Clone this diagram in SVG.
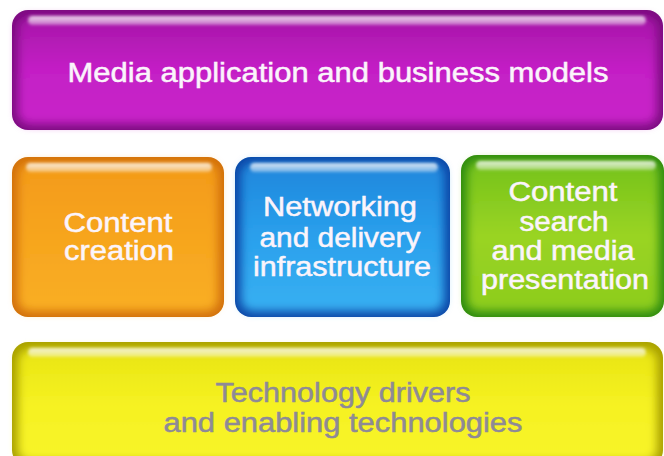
<svg xmlns="http://www.w3.org/2000/svg" width="664" height="456" viewBox="0 0 664 456">
<defs>
<filter id="soft" x="-10%" y="-10%" width="120%" height="120%"><feGaussianBlur stdDeviation="5"/></filter>
<filter id="hl" x="-5%" y="-50%" width="110%" height="200%"><feGaussianBlur stdDeviation="1.5"/></filter>
<linearGradient id="gP" x1="0" y1="0" x2="0" y2="1"><stop offset="0" stop-color="#a616a8"/><stop offset="0.5" stop-color="#c41fc6"/><stop offset="1" stop-color="#c824c8"/></linearGradient>
<linearGradient id="gO" x1="0" y1="0" x2="0" y2="1"><stop offset="0" stop-color="#f39a18"/><stop offset="0.5" stop-color="#f7a51e"/><stop offset="1" stop-color="#f9ae24"/></linearGradient>
<linearGradient id="gB" x1="0" y1="0" x2="0" y2="1"><stop offset="0" stop-color="#1f86dc"/><stop offset="0.5" stop-color="#2aa0ec"/><stop offset="1" stop-color="#38b0f2"/></linearGradient>
<linearGradient id="gG" x1="0" y1="0" x2="0" y2="1"><stop offset="0" stop-color="#74c21a"/><stop offset="0.5" stop-color="#9ad424"/><stop offset="1" stop-color="#8ccc1c"/></linearGradient>
<linearGradient id="gY" x1="0" y1="0" x2="0" y2="1"><stop offset="0" stop-color="#e8e412"/><stop offset="0.5" stop-color="#f6f222"/><stop offset="1" stop-color="#f8f42a"/></linearGradient>
<linearGradient id="hlg" x1="0" y1="0" x2="0" y2="1"><stop offset="0" stop-color="#fff" stop-opacity="0.85"/><stop offset="1" stop-color="#fff" stop-opacity="0.35"/></linearGradient>
</defs>
<style>
.lbl{font-family:"Liberation Sans",Arial,sans-serif;font-size:27px;text-anchor:middle;fill:#fbf4fb;stroke:#fbf4fb;stroke-width:0.5px}
.gray{fill:#8e8a96;stroke:#8e8a96}
.hl{fill:url(#hlg)}
</style>
<rect width="664" height="456" fill="#ffffff"/>

<g id="media">
<rect x="12" y="10" width="651" height="120" rx="16" fill="#7c0c80"/>
<rect x="18" y="17" width="639" height="107" rx="12" fill="url(#gP)" filter="url(#soft)"/>
<rect x="28" y="16" width="618" height="9" rx="4.5" class="hl" filter="url(#hl)"/>
<text class="lbl" x="338" y="82" textLength="541" lengthAdjust="spacingAndGlyphs">Media application and business models</text>
</g>

<g id="creation">
<rect x="12" y="157" width="212" height="160" rx="16" fill="#d2700c"/>
<rect x="18" y="163" width="200" height="148" rx="12" fill="url(#gO)" filter="url(#soft)"/>
<rect x="26" y="163" width="186" height="9" rx="4.5" class="hl" filter="url(#hl)"/>
<text class="lbl" x="118" y="232" textLength="109" lengthAdjust="spacingAndGlyphs">Content</text>
<text class="lbl" x="119" y="260" textLength="110" lengthAdjust="spacingAndGlyphs">creation</text>
</g>

<g id="networking">
<rect x="235" y="157" width="215" height="160" rx="16" fill="#0c48a8"/>
<rect x="241" y="163" width="203" height="148" rx="12" fill="url(#gB)" filter="url(#soft)"/>
<rect x="250" y="163" width="188" height="9" rx="4.5" class="hl" filter="url(#hl)"/>
<text class="lbl" x="340" y="216" textLength="154" lengthAdjust="spacingAndGlyphs">Networking</text>
<text class="lbl" x="340" y="247" textLength="161" lengthAdjust="spacingAndGlyphs">and delivery</text>
<text class="lbl" x="342" y="276" textLength="178" lengthAdjust="spacingAndGlyphs">infrastructure</text>
</g>

<g id="search">
<rect x="461" y="155" width="203" height="162" rx="16" fill="#2e8c10"/>
<rect x="467" y="161" width="192" height="150" rx="12" fill="url(#gG)" filter="url(#soft)"/>
<rect x="476" y="161" width="180" height="9" rx="4.5" class="hl" filter="url(#hl)"/>
<text class="lbl" x="563" y="201" textLength="109" lengthAdjust="spacingAndGlyphs">Content</text>
<text class="lbl" x="564" y="231" textLength="89" lengthAdjust="spacingAndGlyphs">search</text>
<text class="lbl" x="563" y="260" textLength="143" lengthAdjust="spacingAndGlyphs">and media</text>
<text class="lbl" x="565" y="289" textLength="168" lengthAdjust="spacingAndGlyphs">presentation</text>
</g>

<g id="technology">
<rect x="12" y="342" width="651" height="124" rx="16" fill="#a8a000"/>
<rect x="18" y="349" width="639" height="112" rx="12" fill="url(#gY)" filter="url(#soft)"/>
<rect x="28" y="348" width="618" height="9" rx="4.5" class="hl" filter="url(#hl)"/>
<text class="lbl gray" x="343" y="402" textLength="255" lengthAdjust="spacingAndGlyphs">Technology drivers</text>
<text class="lbl gray" x="343" y="432" textLength="359" lengthAdjust="spacingAndGlyphs">and enabling technologies</text>
</g>

<g id="connectors"/>
</svg>
